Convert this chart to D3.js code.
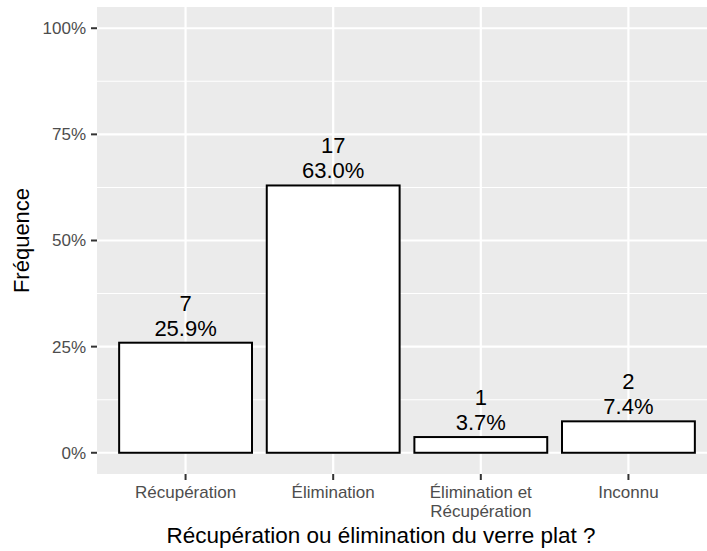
<!DOCTYPE html>
<html>
<head>
<meta charset="utf-8">
<script src="https://cdn.jsdelivr.net/npm/d3@7"></script>
<style>
  body { margin: 0; background: #fff; }
  svg { display: block; font-family: Arial, "Liberation Sans", sans-serif; }
</style>
</head>
<body>
<svg id="chart" width="707" height="551"></svg>
<script>
// data
const categories = ["Récupération", "Élimination", "Élimination et\nRécupération", "Inconnu"];
const counts = [7, 17, 1, 2];
const yTicks = [0, 0.25, 0.5, 0.75, 1];
const yMinor = [0.125, 0.375, 0.625, 0.875];

const total = d3.sum(counts);
const svg = d3.select("#chart");

// panel geometry (ggplot-like), right edge runs past the picture
const panel = { left: 97, top: 7, right: 717, bottom: 474 };

const x = d3.scaleBand()
  .domain(categories)
  .range([panel.left, panel.right])
  .paddingInner(0.1)
  .paddingOuter(0.15);

// center-of-band helper
const xc = d => x(d) + x.bandwidth() / 2;

const y = d3.scaleLinear()
  .domain([-0.05, 1.05])
  .range([panel.bottom, panel.top]);

// grey panel
svg.append("rect")
  .attr("x", panel.left).attr("y", panel.top)
  .attr("width", panel.right - panel.left)
  .attr("height", panel.bottom - panel.top)
  .attr("fill", "#ebebeb");

// grid
const grid = svg.append("g");
grid.selectAll(".minor").data(yMinor).enter().append("line")
  .attr("x1", panel.left).attr("x2", panel.right)
  .attr("y1", d => y(d)).attr("y2", d => y(d))
  .attr("stroke", "#fff").attr("stroke-width", 1.1);
grid.selectAll(".major").data(yTicks).enter().append("line")
  .attr("x1", panel.left).attr("x2", panel.right)
  .attr("y1", d => y(d)).attr("y2", d => y(d))
  .attr("stroke", "#fff").attr("stroke-width", 2.2);
grid.selectAll(".vmajor").data(categories).enter().append("line")
  .attr("x1", d => xc(d)).attr("x2", d => xc(d))
  .attr("y1", panel.top).attr("y2", panel.bottom)
  .attr("stroke", "#fff").attr("stroke-width", 2.2);

// bars
svg.append("g").selectAll("rect")
  .data(categories)
  .enter().append("rect")
  .attr("x", d => x(d))
  .attr("width", x.bandwidth())
  .attr("y", (d, i) => y(counts[i] / total))
  .attr("height", (d, i) => y(0) - y(counts[i] / total))
  .attr("fill", "#fff")
  .attr("stroke", "#000")
  .attr("stroke-width", 2);

// bar labels (count + percent)
const labels = svg.append("g")
  .attr("font-size", "22px")
  .attr("fill", "#000")
  .attr("text-anchor", "middle");
categories.forEach((c, i) => {
  const p = counts[i] / total;
  const t = labels.append("text")
    .attr("x", xc(c))
    .attr("y", y(p) - 7);
  t.append("tspan").attr("x", xc(c)).attr("dy", "-25px").text(counts[i]);
  t.append("tspan").attr("x", xc(c)).attr("dy", "25px").text((p * 100).toFixed(1) + "%");
});

// y axis
const yAxis = svg.append("g");
yAxis.selectAll("line").data(yTicks).enter().append("line")
  .attr("x1", panel.left - 6).attr("x2", panel.left)
  .attr("y1", d => y(d)).attr("y2", d => y(d))
  .attr("stroke", "#333").attr("stroke-width", 2);
yAxis.selectAll("text").data(yTicks).enter().append("text")
  .attr("x", panel.left - 11)
  .attr("y", d => y(d))
  .attr("dy", "0.35em")
  .attr("text-anchor", "end")
  .attr("font-size", "17px")
  .attr("fill", "#4d4d4d")
  .text(d => d3.format(".0%")(d));

// x axis
const xAxis = svg.append("g");
xAxis.selectAll("line").data(categories).enter().append("line")
  .attr("x1", d => xc(d)).attr("x2", d => xc(d))
  .attr("y1", panel.bottom).attr("y2", panel.bottom + 6)
  .attr("stroke", "#333").attr("stroke-width", 2);
xAxis.selectAll("text").data(categories).enter().append("text")
  .attr("text-anchor", "middle")
  .attr("font-size", "17px")
  .attr("fill", "#4d4d4d")
  .each(function(d) {
    const el = d3.select(this);
    d.split("\n").forEach((line, j) => {
      el.append("tspan")
        .attr("x", xc(d))
        .attr("y", 498 + j * 18.5)
        .text(line);
    });
  });

// axis titles
svg.append("text")
  .attr("x", 381)
  .attr("y", 543)
  .attr("text-anchor", "middle")
  .attr("font-size", "22.5px")
  .attr("fill", "#000")
  .text("Récupération ou élimination du verre plat ?");

svg.append("text")
  .attr("transform", `translate(29,${(panel.top + panel.bottom) / 2}) rotate(-90)`)
  .attr("text-anchor", "middle")
  .attr("font-size", "22px")
  .attr("fill", "#000")
  .text("Fréquence");
</script>
</body>
</html>
